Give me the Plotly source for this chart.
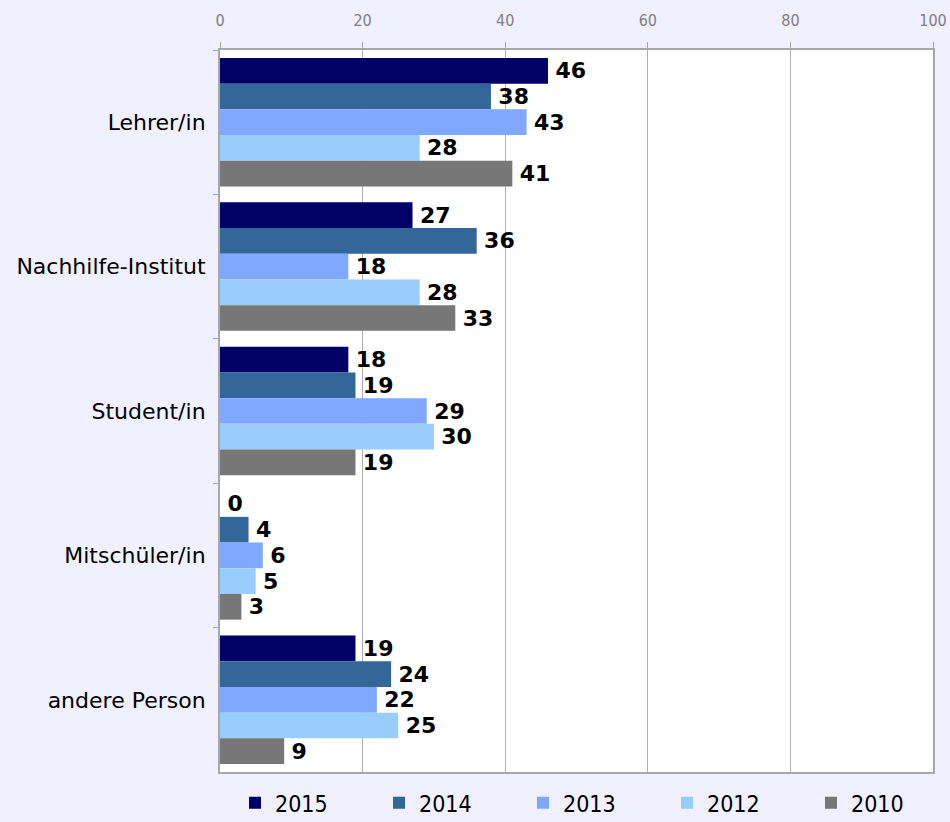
import plotly.graph_objects as go

categories = ["Lehrer/in", "Nachhilfe-Institut", "Student/in", "Mitschüler/in", "andere Person"]
years = ["2015", "2014", "2013", "2012", "2010"]
v2015 = [46, 27, 18, 0, 19]
v2014 = [38, 36, 19, 4, 24]
v2013 = [43, 18, 29, 6, 22]
v2012 = [28, 28, 30, 5, 25]
v2010 = [41, 33, 19, 3, 9]
series = [v2015, v2014, v2013, v2012, v2010]
colors = ["#000066", "#336699", "#80A8FF", "#99CCFF", "#777777"]

legend_ids = ["legend", "legend2", "legend3", "legend4", "legend5"]
legend_px = [235, 379, 523, 667, 811]

fig = go.Figure()
for name, vals, col, lid in zip(years, series, colors, legend_ids):
    fig.add_trace(go.Bar(
        y=categories, x=vals, name=name, orientation="h",
        marker=dict(color=col, line=dict(width=0)),
        text=["\u2009" + str(v) for v in vals], textposition="outside",
        textfont=dict(family="DejaVu Sans", size=22, color="black", weight="bold"),
        cliponaxis=False, legend=lid,
    ))

legend_layout = {}
for lid, px in zip(legend_ids, legend_px):
    legend_layout[lid] = dict(
        orientation="h", xref="container", x=px / 950, xanchor="left",
        y=-0.013, yanchor="top",
        font=dict(family="DejaVu Sans Condensed", size=23, color="black"),
        itemwidth=30, bgcolor="rgba(0,0,0,0)")

fig.update_layout(
    width=950, height=822,
    paper_bgcolor="#F0F0FF", plot_bgcolor="white",
    barmode="group", bargap=0.11, bargroupgap=0,
    margin=dict(l=220, r=17, t=50, b=50, autoexpand=False),
    showlegend=True,
    xaxis=dict(side="top", range=[0, 100], tickvals=[0, 20, 40, 60, 80, 100],
               showgrid=True, gridcolor="#B0B0B0", gridwidth=1,
               showline=True, linecolor="#A8A8A8", linewidth=2, mirror=True,
               ticks="outside", ticklen=6, tickcolor="#A8A8A8",
               tickfont=dict(family="DejaVu Sans Condensed", size=16, color="#808080"),
               ticklabelstandoff=10, automargin=False,
               zeroline=False, fixedrange=True),
    yaxis=dict(autorange="reversed", showline=True, linecolor="#A8A8A8", linewidth=2,
               mirror=True, ticks="outside", tickson="boundaries", ticklen=5,
               tickcolor="#A8A8A8", showgrid=False, automargin=False,
               tickfont=dict(family="DejaVu Sans", size=22, color="black"),
               ticklabelstandoff=8, fixedrange=True),
    **legend_layout,
)
fig.write_html("out.html", config={"displayModeBar": False},
               post_script="document.body.style.margin='0';")
